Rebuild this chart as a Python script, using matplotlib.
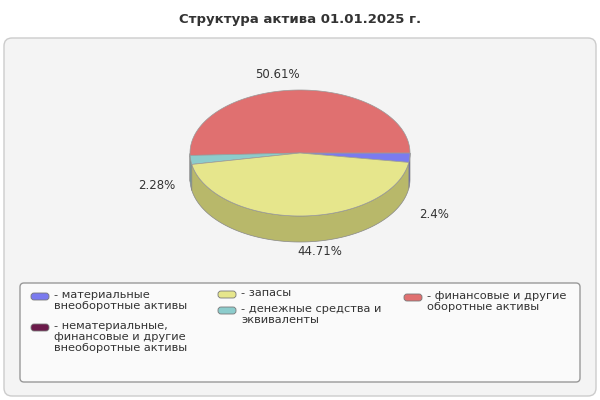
import numpy as np
import matplotlib
matplotlib.use("Agg")
import matplotlib.pyplot as plt
from matplotlib.patches import Polygon, FancyBboxPatch

title = "Структура актива 01.01.2025 г."
labels = ["- материальные\nвнеоборотные активы",
          "- нематериальные,\nфинансовые и другие\nвнеоборотные активы",
          "- запасы",
          "- денежные средства и\nэквиваленты",
          "- финансовые и другие\nоборотные активы"]
values = [2.4, 0.0, 44.71, 2.28, 50.61]
value_texts = ["2.4%", "", "44.71%", "2.28%", "50.61%"]
colors = ["#7b7bef", "#6b1a4a", "#e6e68c", "#8ccccc", "#e07070"]
sides = ["#5a5ab0", "#4a1033", "#b8b86a", "#6aa0a0", "#b05656"]

fig = plt.figure(figsize=(6, 4), dpi=100)
ax = fig.add_axes([0, 0, 1, 1])
ax.set_xlim(0, 600); ax.set_ylim(400, 0); ax.axis("off")
fig.patch.set_facecolor("white")

ax.text(300, 20, title, ha="center", va="center", fontsize=9.5, fontweight="bold", color="#333333")
ax.add_patch(FancyBboxPatch((4, 38), 592, 358, boxstyle="round,pad=0,rounding_size=8",
                            fc="#f4f4f4", ec="#cccccc", lw=1))
ax.add_patch(FancyBboxPatch((20, 283), 560, 99, boxstyle="round,pad=0,rounding_size=4",
                            fc="#fafafa", ec="#999999", lw=1))

cx, cy, rx, ry, depth = 300, 153, 110, 63, 26
start = -8.6
tot = sum(values)
order = [0, 1, 4, 3, 2]
a = start
spans = {}
for i in order:
    d = values[i] / tot * 360
    spans[i] = (a, a + d)
    a += d

def pt(t, off=0):
    r = np.radians(t)
    return cx + rx * np.cos(r), cy - ry * np.sin(r) + off

for i in order:
    a0, a1 = spans[i]
    if values[i] == 0:
        continue
    ts = np.linspace(a0, a1, 200)
    ts = ts[np.sin(np.radians(ts)) <= 0.0001]
    if len(ts) < 2:
        continue
    top = [pt(t) for t in ts]
    bot = [pt(t, depth) for t in ts[::-1]]
    ax.add_patch(Polygon(top + bot, closed=True, fc=sides[i], ec="#888888", lw=0.5))

label_off = {0: (-6, 24), 2: (18, -12), 3: (-4, -8), 4: (-20, 0)}
for i in order:
    a0, a1 = spans[i]
    if values[i] == 0:
        continue
    ts = np.linspace(a0, a1, 200)
    ax.add_patch(Polygon([(cx, cy)] + [pt(t) for t in ts], closed=True,
                         fc=colors[i], ec="#999999", lw=0.5))
    m = (a0 + a1) / 2
    r = np.radians(m)
    s = np.sin(r)
    dx, dy = label_off[i]
    lx = cx + (rx + 30) * np.cos(r) + dx
    ly = cy - (ry + 16) * s + (depth + 6 if s < 0 else 0) + dy
    ax.text(lx, ly, value_texts[i], ha="center", va="center", fontsize=8.5, color="#333333")

pos = [(30, 292), (30, 323), (217, 290), (217, 306), (403, 293)]
for (x, y), c, lab in zip(pos, colors, labels):
    ax.add_patch(FancyBboxPatch((x + 1, y + 1), 18, 7, boxstyle="round,pad=0,rounding_size=3",
                                fc=c, ec="#777777", lw=0.6))
    ax.text(x + 24, y - 2, lab, ha="left", va="top", fontsize=8.2, color="#333333", linespacing=1.1)

fig.savefig("out.png", dpi=100)
